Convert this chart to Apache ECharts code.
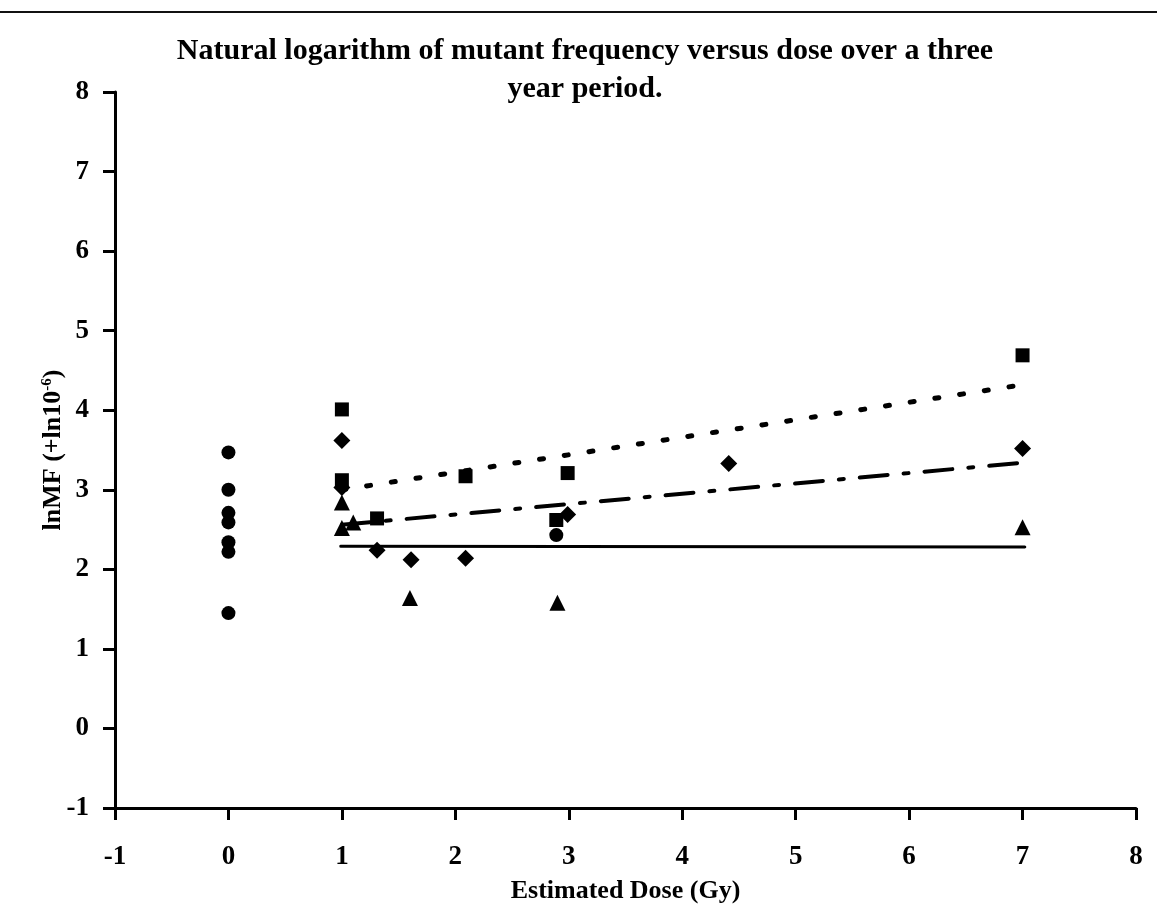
<!DOCTYPE html>
<html>
<head>
<meta charset="utf-8">
<script src="https://cdn.jsdelivr.net/npm/echarts@6/dist/echarts.min.js"></script>
<style>
  html, body { margin: 0; padding: 0; background: #fff; }
  #main { width: 1157px; height: 920px; }
</style>
</head>
<body>
<div id="main"></div>
<script type="text/javascript">
// data (dose in Gy, lnMF)
var circlePts   = [[0, 3.47], [0, 3.00], [0, 2.71], [0, 2.59], [0, 2.34], [0, 2.22], [0, 1.45], [2.89, 2.43]];
var squarePts   = [[1, 4.01], [1, 3.12], [1.31, 2.64], [2.09, 3.17], [2.99, 3.21], [2.89, 2.62], [7, 4.69]];
var diamondPts  = [[1, 3.62], [1, 3.03], [1.31, 2.24], [1.61, 2.12], [2.09, 2.14], [2.99, 2.69], [4.41, 3.33], [7, 3.52]];
var trianglePts = [[1, 2.84], [1, 2.52], [1.1, 2.59], [1.6, 1.64], [2.9, 1.58], [7, 2.53]];

// trend lines
var solidLine   = [[0.99, 2.29], [7.02, 2.28]];
var dottedLine  = [[1, 3.00], [7, 4.32]];
var dashDotLine = [[1, 2.56], [7, 3.34]];

var axisTicks = [-1, 0, 1, 2, 3, 4, 5, 6, 7, 8];

var serif = "'Liberation Serif', 'DejaVu Serif', serif";

var myChart = echarts.init(document.getElementById('main'));

function markerSeries(name, symbol, size, pts) {
    return {
        name: name,
        type: 'scatter',
        symbol: symbol,
        symbolSize: size,
        itemStyle: { color: '#000', opacity: 1 },
        data: pts,
        z: 5
    };
}

function trendSeries(name, pts, type, width) {
    return {
        name: name,
        type: 'line',
        showSymbol: false,
        symbol: 'none',
        lineStyle: { color: '#000', width: width, type: type, cap: 'round', opacity: 1 },
        data: pts,
        z: 4
    };
}

var option = {
    backgroundColor: '#fff',
    animation: false,
    title: {
        text: 'Natural logarithm of mutant frequency versus dose over a three\nyear period.',
        left: 580,
        top: 27,
        textAlign: 'center',
        textStyle: {
            fontFamily: serif,
            fontWeight: 'bold',
            fontSize: 30,
            lineHeight: 38,
            color: '#000'
        }
    },
    grid: { left: 115, right: 21, top: 92, bottom: 112 },
    xAxis: {
        type: 'value',
        min: axisTicks[0],
        max: axisTicks[axisTicks.length - 1],
        interval: 1,
        name: 'Estimated Dose (Gy)',
        nameLocation: 'middle',
        nameGap: 70,
        nameMoveOverlap: false,
        nameTextStyle: { fontFamily: serif, fontWeight: 'bold', fontSize: 26, color: '#000' },
        axisLine: { onZero: false, lineStyle: { color: '#000', width: 3 } },
        axisTick: { show: true, length: 12, lineStyle: { color: '#000', width: 3 } },
        axisLabel: { margin: 36, fontFamily: serif, fontWeight: 'bold', fontSize: 27, color: '#000' },
        splitLine: { show: false }
    },
    yAxis: {
        type: 'value',
        min: axisTicks[0],
        max: axisTicks[axisTicks.length - 1],
        interval: 1,
        name: '{n|lnMF (+ln10}{s|-6}{n|)}',
        nameLocation: 'middle',
        nameGap: 48,
        nameRotate: 90,
        nameMoveOverlap: false,
        nameTextStyle: {
            color: '#000',
            rich: {
                n: { fontFamily: serif, fontWeight: 'bold', fontSize: 26, color: '#000' },
                s: { fontFamily: serif, fontWeight: 'bold', fontSize: 15, color: '#000', verticalAlign: 'top', padding: [0, 0, 12, 0] }
            }
        },
        axisLine: { show: true, onZero: false, lineStyle: { color: '#000', width: 3 } },
        axisTick: { show: true, length: 12, lineStyle: { color: '#000', width: 3 } },
        axisLabel: { margin: 26, fontFamily: serif, fontWeight: 'bold', fontSize: 27, color: '#000' },
        splitLine: { show: false }
    },
    graphic: [
        {
            type: 'line',
            shape: { x1: 0, y1: 12, x2: 1157, y2: 12 },
            style: { stroke: '#111', lineWidth: 2 }
        }
    ],
    series: [
        trendSeries('solid', solidLine, 'solid', 3),
        trendSeries('dotted', dottedLine, [4, 21], 5),
        trendSeries('dashdot', dashDotLine, [28, 16, 5, 16], 4),
        markerSeries('circle', 'circle', 14, circlePts),
        markerSeries('square', 'rect', 14, squarePts),
        markerSeries('diamond', 'diamond', 17, diamondPts),
        markerSeries('triangle', 'triangle', 16, trianglePts)
    ]
};

myChart.setOption(option);
</script>
</body>
</html>
